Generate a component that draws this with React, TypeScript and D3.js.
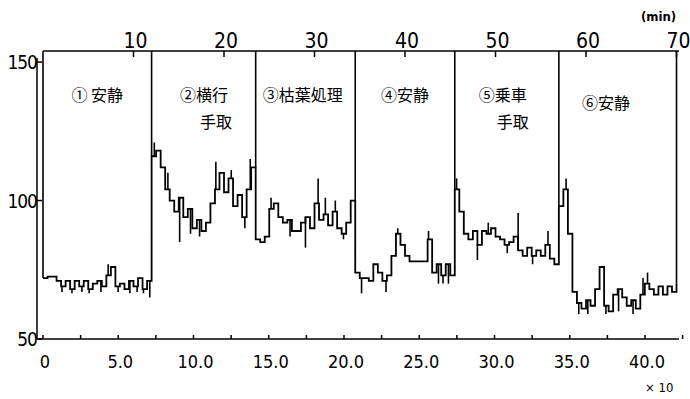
import * as d3 from 'd3';
import React from 'react';

// heart rate sampled every half minute, 0..70 min
const stepMin = 0.5;
const heartRate = [
    72, 72.5, 72.5, 71, 69, 71, 68, 71, 69, 71, 68, 70, 71, 69, 73, 76, 69, 70, 68, 71, 69, 72, 68, 71,
    116, 118, 112, 104, 100, 96, 101, 94, 97, 90, 93, 89, 92, 99, 104, 110, 103, 108, 98, 102, 94, 104, 112,
    86, 85, 87, 97, 99, 94, 92, 93, 89, 89, 92, 94, 90, 99, 93, 95, 91, 96, 90, 88, 92, 100,
    74, 72, 72, 71, 77, 74, 71, 73, 80, 88, 84, 80, 78, 78, 78, 78, 86, 74, 77, 73, 77, 73,
    104, 96, 88, 86, 89, 84, 89, 88, 90, 87, 86, 84, 85, 87, 82, 80, 83, 80, 82, 80, 84, 79, 77,
    98, 104, 88, 67, 63, 61, 64, 62, 68, 76, 62, 60, 66, 68, 65, 62, 64, 61, 66, 70, 68, 66, 69, 66, 69, 67, 70,
];

// short beat-to-beat excursions [min, bpm]
const spikes: [number, number][] = [
    [2.1, 67], [3.2, 66.5], [4.3, 67], [5.1, 66.5], [6.4, 67], [7.2, 77], [8.3, 67], [9.6, 66.5], [10.4, 67], [11.1, 66.5], [11.8, 65],
    [12.3, 121], [13.8, 110], [15.1, 85], [16.3, 88], [17.3, 87], [19.1, 114], [20.8, 111], [22.3, 90], [22.9, 115],
    [25.2, 101], [27.3, 87], [29.0, 83], [30.4, 108], [31.2, 101], [32.3, 100], [33.2, 86],
    [35.2, 66.5], [37.9, 67], [39.2, 90], [42.6, 89], [43.7, 70], [44.2, 70], [44.8, 70],
    [45.7, 108], [48, 78.5], [49.2, 92], [51.3, 81], [52.5, 95.5], [54.1, 77], [55.8, 89],
    [57.8, 108], [59.2, 59], [60.2, 59], [62.2, 59], [63.6, 60], [65.2, 59], [66.3, 72], [66.8, 74],
];

// phase change markers (min)
const markers = [0, 12, 23.5, 34.5, 45.5, 57, 70];

const phases = [
    { lines: ['① 安静'], at: 6 },
    { lines: ['②横行', '手取'], at: 17.8, dx: [0, 12] },
    { lines: ['③枯葉処理'], at: 28.7 },
    { lines: ['④安静'], at: 40 },
    { lines: ['⑤乗車', '手取'], at: 50.8, dx: [0, 10] },
    { lines: ['⑥安静'], at: 62.2, dy: 8 },
];

const topTicks = [10, 20, 30, 40, 50, 60, 70];
const bottomTicks = [0, 5, 10, 15, 20, 25, 30, 35, 40];
const bottomLabels = ['0', '5.0', '10.0', '15.0', '20.0', '25.0', '30.0', '35.0', '40.0'];
const yTicks = [50, 100, 150];

const font = '"DejaVu Sans Condensed", "DejaVu Sans", sans-serif';
const jp = '"Noto Sans CJK JP", sans-serif';

export default () => {
    const x = d3.scaleLinear().domain([0, 70]).range([43, 676.5]);
    const xb = d3.scaleLinear().domain([0, 40]).range([43, 645]);
    const y = d3.scaleLinear().domain([50, 154]).range([339, 51]);

    const pts = heartRate.map((v, i) => [i * stepMin, v] as [number, number]);
    const line = d3.line<[number, number]>()
        .x(d => x(d[0]))
        .y(d => y(d[1]))
        .curve(d3.curveStepAfter);

    const stepValue = (m: number) => heartRate[Math.min(heartRate.length - 1, Math.floor(m / stepMin))];
    const valueAt = (m: number) => {
        const i = Math.round(m / stepMin);
        const a = heartRate[Math.max(0, i - 1)];
        const b = heartRate[Math.min(heartRate.length - 1, i)];
        return Math.max(a, b);
    };

    const minorBottom = d3.range(0, 42.6, 2.5);

    return (
        <svg width={690} height={399} style={{ position: 'absolute', left: 0, top: 0, background: '#fff' }}>
            {/* top axis (min) */}
            <line x1={43} x2={679} y1={51} y2={51} stroke="#000" strokeWidth={1.5} />
            {topTicks.map(t => (
                <g key={t}>
                    <line x1={x(t)} x2={x(t)} y1={51} y2={57} stroke="#000" strokeWidth={1.5} />
                    <text x={x(t) + 2} y={48} fontSize={21} fontFamily={font} textAnchor="middle">{t}</text>
                </g>
            ))}
            <text x={641} y={21} fontSize={13} fontFamily={font} fontWeight="bold">(min)</text>

            {/* left axis */}
            <line x1={37} x2={37} y1={58} y2={339} stroke="#000" strokeWidth={1.5} />
            {yTicks.map(t => (
                <g key={t}>
                    <line x1={37} x2={42} y1={y(t)} y2={y(t)} stroke="#000" strokeWidth={1.5} />
                    <text x={37} y={y(t) + 7} fontSize={19} fontFamily={font} textAnchor="end" letterSpacing={-1}>{t}</text>
                </g>
            ))}

            {/* bottom axis (x10) */}
            <line x1={37} x2={679} y1={339} y2={339} stroke="#000" strokeWidth={1.5} />
            {minorBottom.map(t => (
                <line key={t} x1={xb(t)} x2={xb(t)} y1={339} y2={335} stroke="#000" strokeWidth={1.5} />
            ))}
            {bottomTicks.map((t, i) => (
                <text key={t} x={xb(t) + 2} y={368} fontSize={18} fontFamily={font} textAnchor="middle">{bottomLabels[i]}</text>
            ))}
            <text x={645} y={392} fontSize={13} fontFamily={font}>× 10</text>

            {/* phase markers */}
            {markers.map(m => (
                <line key={m} x1={x(m)} x2={x(m)} y1={y(154)} y2={y(valueAt(m))} stroke="#000" strokeWidth={1.6} />
            ))}

            {/* heart rate trace */}
            <path d={line(pts) ?? ''} fill="none" stroke="#000" strokeWidth={1.8} />
            {spikes.map(([m, v], i) => (
                <line key={i} x1={x(m)} x2={x(m)} y1={y(stepValue(m))} y2={y(v)} stroke="#000" strokeWidth={1.6} />
            ))}

            {/* phase labels */}
            {phases.map((p, i) => (
                <text key={i} x={x(p.at)} y={101 + (p.dy ?? 0)} fontSize={16} fontFamily={jp} textAnchor="middle">
                    {p.lines.map((l, j) => (
                        <tspan key={j} x={x(p.at) + (p.dx ? p.dx[j] : 0)} dy={j === 0 ? 0 : 27}>{l}</tspan>
                    ))}
                </text>
            ))}
        </svg>
    );
};
